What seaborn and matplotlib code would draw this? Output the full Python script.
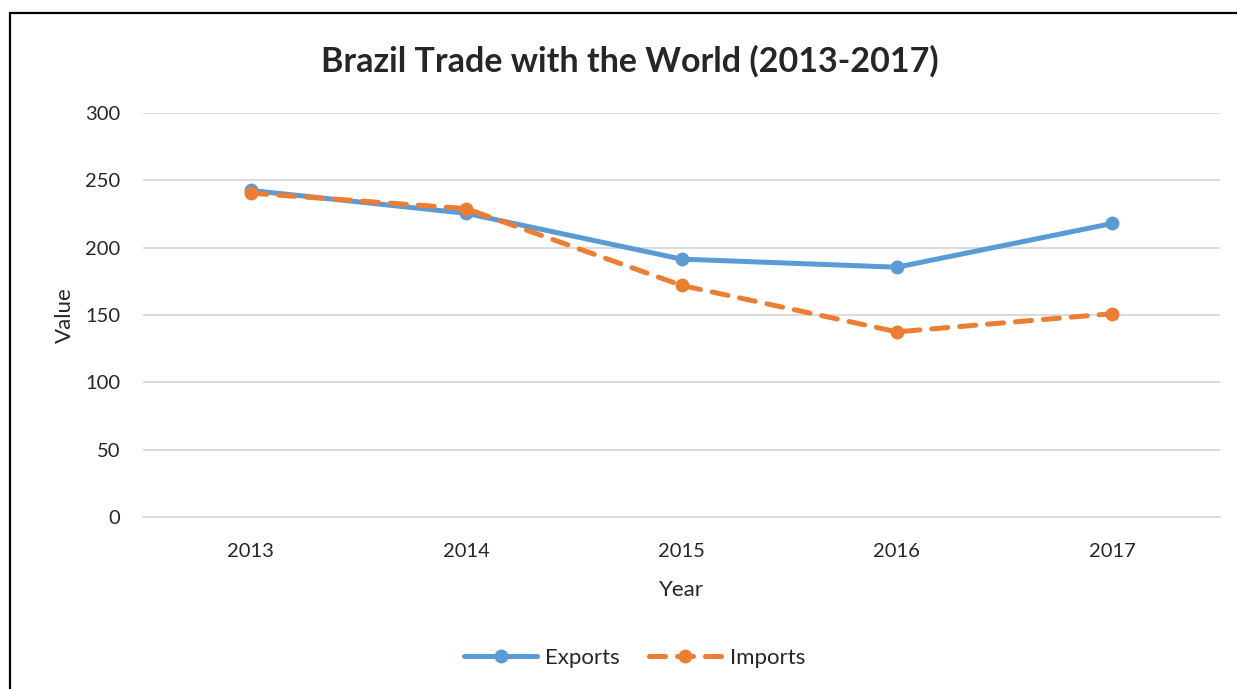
import pandas as pd
import matplotlib.pyplot as plt
import matplotlib.patches as patches
import seaborn as sns

# Dados
anos = ["2013", "2014", "2015", "2016", "2017"]
exports = [242.5, 225.5, 191.5, 185.5, 218]
imports = [240.5, 229, 172, 137.5, 151]

df = pd.DataFrame({
    "Year": anos * 2,
    "Value": exports + imports,
    "Series": ["Exports"] * len(anos) + ["Imports"] * len(anos),
})

sns.set_style("white")
plt.rcParams["font.family"] = ["Lato", "DejaVu Sans"]

fig = plt.figure(figsize=(12.37, 6.89), dpi=100)
ax = fig.add_axes([0.1156, 0.2496, 0.8707, 0.5864])

sns.lineplot(
    data=df, x="Year", y="Value", hue="Series", style="Series",
    palette={"Exports": "#5B9BD5", "Imports": "#ED7D31"},
    dashes={"Exports": "", "Imports": (3.2, 2.4)},
    markers={"Exports": "o", "Imports": "o"},
    markersize=10, linewidth=3.6, markeredgewidth=0, ax=ax,
)
for line in ax.lines:
    line.set_dash_capstyle("round")
    line.set_solid_capstyle("round")

ax.set_xlim(-0.5, 4.5)
ax.set_ylim(0, 300)
ax.set_yticks(range(0, 301, 50))
ax.yaxis.grid(True, color="#d9d9d9", linewidth=1.3)
ax.set_axisbelow(True)
for s in ["top", "right", "left"]:
    ax.spines[s].set_visible(False)
ax.spines["bottom"].set_color("#d9d9d9")
ax.spines["bottom"].set_linewidth(1.3)
ax.tick_params(axis="y", length=0, labelsize=14.5, pad=16.5)
ax.tick_params(axis="x", length=0, labelsize=14.5, pad=19)

ax.set_xlabel("Year", fontsize=16, labelpad=14)
ax.set_ylabel("Value", fontsize=16, labelpad=7)
fig.suptitle("Brazil Trade with the World (2013-2017)", fontsize=24.5,
             fontweight="bold", x=0.509, y=0.935)

leg = ax.legend(loc="center", bbox_to_anchor=(0.513, 0.045),
                bbox_transform=fig.transFigure, ncol=2, frameon=False,
                fontsize=16, handlelength=3.3, columnspacing=1.3, handletextpad=0.35)
for line in leg.get_lines():
    line.set_dash_capstyle("round")
    line.set_solid_capstyle("round")

# moldura do gráfico
fig.patches.append(patches.Rectangle(
    (10 / 1237, -0.05), 1.2, 1 - 13 / 689 + 0.05, transform=fig.transFigure,
    fill=False, edgecolor="black", linewidth=1.6))

plt.savefig("out.png", dpi=100)
